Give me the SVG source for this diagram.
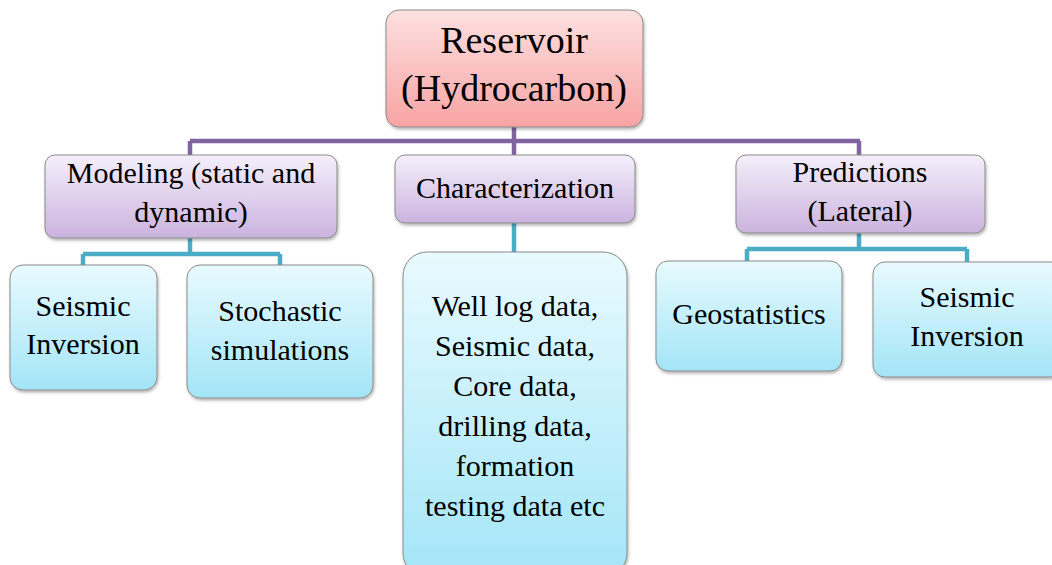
<svg xmlns="http://www.w3.org/2000/svg" width="1052" height="565" viewBox="0 0 1052 565">
<style>
text{font-family:'Liberation Serif','Times New Roman',serif;fill:#000;text-anchor:middle}
.t1{font-size:38px}
.t2{font-size:30px}
.t3{font-size:30px}
.box{stroke:#8a8a8a;stroke-width:1;filter:url(#sh)}
.pc{fill:none;stroke:#8064a2;stroke-width:4.5}
.tc{fill:none;stroke:#4bacc6;stroke-width:4.5}
</style>
<defs>
<linearGradient id="gRed" x1="0" y1="0" x2="0" y2="1"><stop offset="0" stop-color="#fde0e0"/><stop offset="1" stop-color="#f8a3a3"/></linearGradient>
<linearGradient id="gPur" x1="0" y1="0" x2="0" y2="1"><stop offset="0" stop-color="#f4effa"/><stop offset="1" stop-color="#cbb3df"/></linearGradient>
<linearGradient id="gCy" x1="0" y1="0" x2="0" y2="1"><stop offset="0" stop-color="#e8fafe"/><stop offset="1" stop-color="#a3e5f7"/></linearGradient>
<filter id="sh" x="-10%" y="-10%" width="120%" height="130%"><feDropShadow dx="1" dy="2" stdDeviation="1.5" flood-color="#000" flood-opacity="0.3"/></filter>
</defs>
<g id="connectors">
<path class="pc" d="M514 127V141M190 141H860M190 141V156M514 141V156M859 141V156"/>
<path class="tc" d="M190 238V254M83 254H280M83 254V266M280 254V266"/>
<path class="tc" d="M514 223V253"/>
<path class="tc" d="M859 233V249M747 249H967M747 249V262M967 249V263"/>
</g>
<g id="root">
<rect class="box" x="386" y="10" width="257" height="117" rx="13" fill="url(#gRed)"/>
<text class="t1" x="514" y="53">Reservoir</text>
<text class="t1" x="514" y="101">(Hydrocarbon)</text>
</g>
<g id="modeling">
<rect class="box" x="45" y="155" width="292" height="83" rx="10" fill="url(#gPur)"/>
<text class="t2" x="191" y="183">Modeling (static and</text>
<text class="t2" x="191" y="222">dynamic)</text>
</g>
<g id="characterization">
<rect class="box" x="395" y="155" width="240" height="68" rx="10" fill="url(#gPur)"/>
<text class="t2" x="515" y="198">Characterization</text>
</g>
<g id="predictions">
<rect class="box" x="736" y="155" width="249" height="78" rx="10" fill="url(#gPur)"/>
<text class="t2" x="860" y="182">Predictions</text>
<text class="t2" x="860" y="221">(Lateral)</text>
</g>
<g id="seismic-inversion-1">
<rect class="box" x="10" y="265" width="147" height="125" rx="13" fill="url(#gCy)"/>
<text class="t3" x="83" y="316">Seismic</text>
<text class="t3" x="83" y="354">Inversion</text>
</g>
<g id="stochastic">
<rect class="box" x="187" y="265" width="186" height="133" rx="13" fill="url(#gCy)"/>
<text class="t3" x="280" y="321">Stochastic</text>
<text class="t3" x="280" y="360">simulations</text>
</g>
<g id="data">
<rect class="box" x="403" y="252" width="224" height="325" rx="24" fill="url(#gCy)"/>
<text class="t3" x="515" y="316">Well log data,</text>
<text class="t3" x="515" y="356">Seismic data,</text>
<text class="t3" x="515" y="396">Core data,</text>
<text class="t3" x="515" y="436">drilling data,</text>
<text class="t3" x="515" y="476">formation</text>
<text class="t3" x="515" y="516">testing data etc</text>
</g>
<g id="geostatistics">
<rect class="box" x="656" y="261" width="186" height="110" rx="12" fill="url(#gCy)"/>
<text class="t3" x="749" y="324">Geostatistics</text>
</g>
<g id="seismic-inversion-2">
<rect class="box" x="873" y="262" width="190" height="115" rx="12" fill="url(#gCy)"/>
<text class="t3" x="967" y="307">Seismic</text>
<text class="t3" x="967" y="346">Inversion</text>
</g>
</svg>
